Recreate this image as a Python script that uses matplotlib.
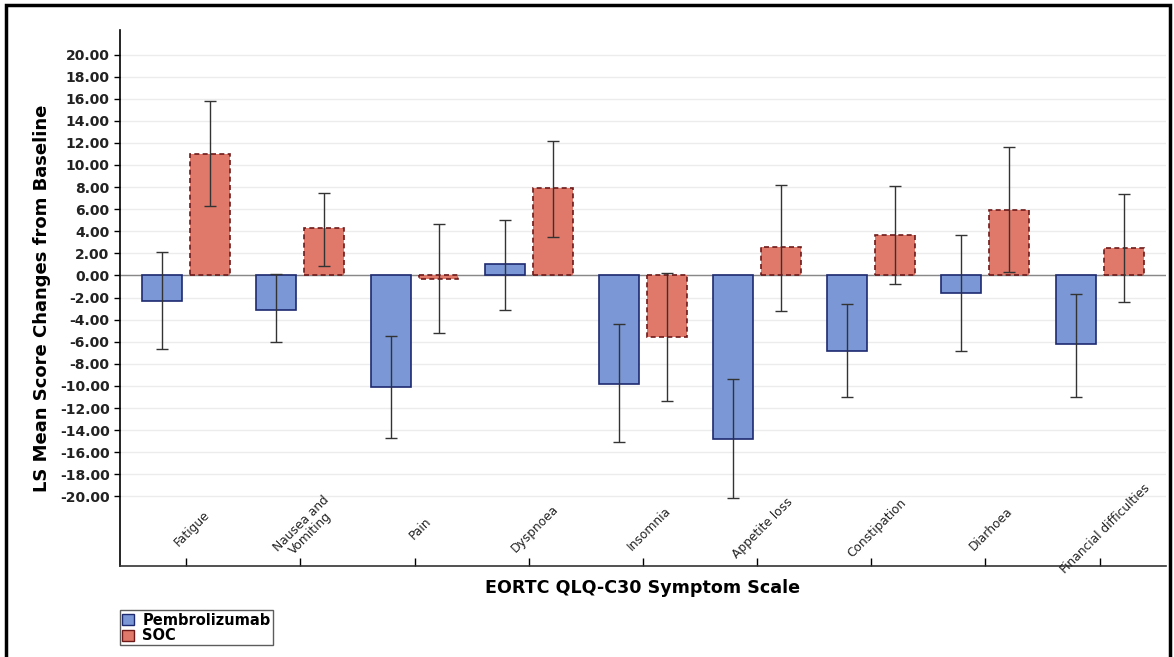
import matplotlib
matplotlib.use("Agg")
import matplotlib.pyplot as plt
import numpy as np
from matplotlib.patches import Rectangle, Patch

# symptom scales
categories = ["Fatigue", "Nausea and\nVomiting", "Pain", "Dyspnoea", "Insomnia",
              "Appetite loss", "Constipation", "Diarhoea", "Financial difficulties"]

# LS mean change and 95% CI
pembro_mean = [-2.3, -3.1, -10.1, 1.0, -9.8, -14.8, -6.8, -1.6, -6.2]
pembro_low = [-6.7, -6.0, -14.7, -3.1, -15.1, -20.1, -11.0, -6.8, -11.0]
pembro_high = [2.1, 0.1, -5.5, 5.0, -4.4, -9.4, -2.6, 3.7, -1.7]

soc_mean = [11.0, 4.3, -0.3, 7.9, -5.6, 2.6, 3.7, 5.9, 2.5]
soc_low = [6.3, 0.9, -5.2, 3.5, -11.4, -3.2, -0.8, 0.3, -2.4]
soc_high = [15.8, 7.5, 4.7, 12.2, 0.2, 8.2, 8.1, 11.6, 7.4]

series_names = ["Pembrolizumab", "SOC"]
yticks = np.arange(-20, 21, 2)

blue = "#7b97d6"
red = "#e0796a"

fig = plt.figure(figsize=(11.74, 6.57), dpi=100)
ax = fig.add_axes([0.1022, 0.1385, 0.8908, 0.8155])

x = np.arange(len(categories))
w = 0.35
off = 0.21

pm = np.array(pembro_mean)
sm = np.array(soc_mean)
ax.bar(x - off, pm, w, color=blue, edgecolor="#1e2a70", linewidth=1.2, zorder=3)
ax.bar(x + off, sm, w, color=red, edgecolor="#6e1a1a", linewidth=1.2,
       linestyle=(0, (3, 2)), zorder=3)
ax.errorbar(x - off, pm, yerr=[pm - np.array(pembro_low), np.array(pembro_high) - pm],
            fmt="none", ecolor="#333333", elinewidth=1, capsize=4.5, capthick=1, zorder=4)
ax.errorbar(x + off, sm, yerr=[sm - np.array(soc_low), np.array(soc_high) - sm],
            fmt="none", ecolor="#333333", elinewidth=1, capsize=4.5, capthick=1, zorder=4)

ax.set_xlim(-0.58, len(categories) - 1 + 0.58)
ax.set_ylim(-26.3, 22.2)

for yv in yticks:
    ax.axhline(yv, color="#ececec", linewidth=1, zorder=1)
ax.axhline(0, color="#888888", linewidth=1, zorder=2)

ax.set_yticks(yticks)
ax.set_yticklabels(["%.2f" % v for v in yticks], fontsize=10, fontweight="bold", color="#222222")
ax.tick_params(axis="y", direction="out", length=4, width=1)

ax.set_xticks(x)
ax.set_xticklabels([])
ax.tick_params(axis="x", direction="in", length=6, width=1)
for i, c in enumerate(categories):
    ax.text(i + 0.05, -22.9, c, rotation=45, ha="center", va="center",
            fontsize=8.8, color="#222222", linespacing=0.95, zorder=5)

for s in ["top", "right"]:
    ax.spines[s].set_visible(False)
ax.spines["left"].set_linewidth(1.2)
ax.spines["bottom"].set_linewidth(1.2)
ax.spines["bottom"].set_color("#333333")

ax.set_ylabel("LS Mean Score Changes from Baseline", fontsize=13, fontweight="bold", labelpad=6)
ax.set_xlabel("EORTC QLQ-C30 Symptom Scale", fontsize=12.6, fontweight="bold", labelpad=6)

handles = [Patch(facecolor=blue, edgecolor="#1e2a70"), Patch(facecolor=red, edgecolor="#6e1a1a")]
leg = fig.legend(handles, series_names, loc="upper left", bbox_to_anchor=(0.102, 0.071),
                 prop={"weight": "bold", "size": 10.5}, frameon=True, fancybox=False,
                 handlelength=0.8, handleheight=0.8, handletextpad=0.6,
                 borderpad=0.15, labelspacing=0.05, borderaxespad=0)
leg.get_frame().set_edgecolor("#333333")
leg.get_frame().set_linewidth(1)

fig.patches.append(Rectangle((0.005, -0.05), 0.992, 1.043, transform=fig.transFigure,
                             fill=False, edgecolor="black", linewidth=2.5))

fig.savefig("out.png", dpi=100)
